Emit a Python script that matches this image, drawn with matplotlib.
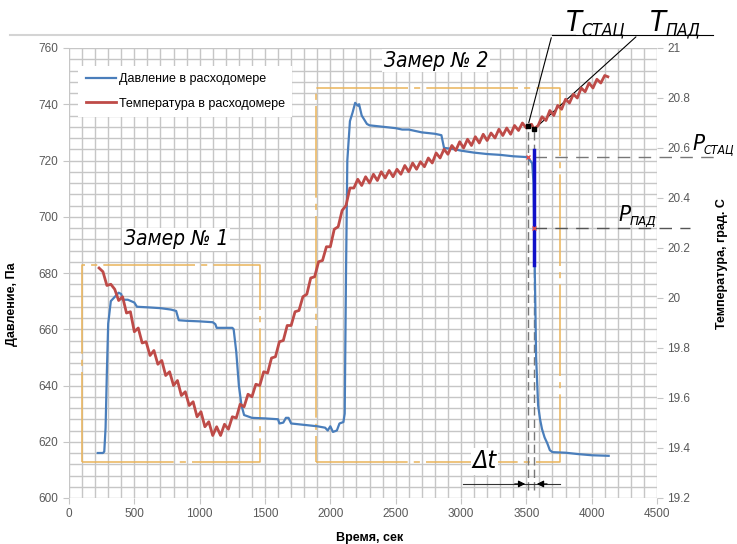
import matplotlib
matplotlib.use('Agg')
import matplotlib.pyplot as plt
from matplotlib.ticker import MultipleLocator, FormatStrFormatter

# pressure in the flowmeter, Pa
time_p = [220, 260, 270, 280, 290, 300, 320, 350, 380, 400, 410, 450, 500, 520, 600, 700, 780,
          820, 840, 900, 1000, 1100, 1120, 1130, 1200, 1250, 1260, 1280, 1300, 1320, 1340, 1400,
          1500, 1600, 1610, 1640, 1660, 1680, 1700, 1800, 1900, 1960, 1980, 2000, 2020, 2050,
          2070, 2100, 2110, 2120, 2130, 2150, 2170, 2190, 2210, 2220, 2240, 2260, 2280, 2300,
          2400, 2500, 2550, 2600, 2650, 2700, 2800, 2850, 2870, 2950, 3000, 3100, 3200, 3300,
          3400, 3510, 3545, 3555, 3565, 3575, 3590, 3605, 3620, 3640, 3660, 3680, 3700, 3800,
          3900, 4000, 4130]
pressure = [616, 616, 616.5, 625, 645, 662, 670, 671.5, 673, 672.5, 670.5, 670.5, 669.5, 668,
            667.8, 667.5, 667, 666.5, 663.2, 663, 662.8, 662.5, 661.8, 660.5, 660.5, 660.5, 660,
            652, 640, 633, 629.5, 628.5, 628.3, 628, 626.5, 626.8, 628.5, 628.5, 626.5, 626,
            625.5, 625, 624, 625.5, 623.5, 624, 626.5, 627, 630, 680, 720, 734, 737, 740.5,
            739.5, 740, 736, 734.5, 733, 732.5, 732, 731.5, 731, 731, 730.5, 730, 729.5, 729,
            724.5, 724, 723.5, 722.8, 722.3, 722, 721.5, 721.2, 719, 712, 680, 650, 633, 628,
            624.5, 621.5, 619.5, 617, 616.3, 616.1, 615.6, 615.2, 615.0]

# temperature in the flowmeter, deg C
time_t = [230, 260, 290, 320, 350, 380, 410, 440, 470, 500, 530, 560, 590, 620, 650, 680, 710,
          740, 770, 800, 830, 860, 890, 920, 950, 980, 1010, 1040, 1070, 1100, 1130, 1160, 1190,
          1220, 1250, 1280, 1310, 1340, 1370, 1400, 1430, 1460, 1490, 1520, 1550, 1580, 1610,
          1640, 1670, 1700, 1730, 1760, 1790, 1820, 1850, 1880, 1910, 1940, 1970, 2000, 2030,
          2060, 2090, 2120, 2150, 2180, 2210, 2240, 2270, 2300, 2330, 2360, 2390, 2420, 2450,
          2480, 2510, 2540, 2570, 2600, 2630, 2660, 2690, 2720, 2750, 2780, 2810, 2840, 2870,
          2900, 2930, 2960, 2990, 3020, 3050, 3080, 3110, 3140, 3170, 3200, 3230, 3260, 3290,
          3320, 3350, 3380, 3410, 3440, 3470, 3500, 3513, 3540, 3559, 3590, 3620, 3650, 3680,
          3710, 3740, 3770, 3800, 3830, 3860, 3890, 3920, 3950, 3980, 4010, 4040, 4070, 4100,
          4124]
temperature = [20.12, 20.105, 20.05, 20.055, 20.035, 19.99, 20.005, 19.94, 19.945, 19.865, 19.88,
               19.82, 19.825, 19.77, 19.79, 19.735, 19.75, 19.69, 19.705, 19.65, 19.67, 19.61,
               19.625, 19.57, 19.585, 19.525, 19.545, 19.485, 19.505, 19.45, 19.485, 19.45,
               19.495, 19.475, 19.525, 19.52, 19.575, 19.565, 19.615, 19.605, 19.655, 19.65,
               19.705, 19.70, 19.76, 19.765, 19.825, 19.83, 19.89, 19.89, 19.945, 19.95, 20.005,
               20.015, 20.08, 20.085, 20.145, 20.15, 20.205, 20.205, 20.275, 20.285, 20.35,
               20.37, 20.44, 20.44, 20.475, 20.45, 20.485, 20.46, 20.495, 20.47, 20.505, 20.48,
               20.51, 20.485, 20.515, 20.495, 20.53, 20.505, 20.54, 20.515, 20.545, 20.525,
               20.56, 20.54, 20.58, 20.56, 20.595, 20.575, 20.61, 20.59, 20.625, 20.60, 20.635,
               20.61, 20.645, 20.62, 20.655, 20.63, 20.66, 20.64, 20.675, 20.65, 20.68, 20.655,
               20.69, 20.67, 20.70, 20.68, 20.69, 20.695, 20.675, 20.69, 20.725, 20.71, 20.75,
               20.73, 20.77, 20.755, 20.795, 20.78, 20.815, 20.80, 20.84, 20.825, 20.86, 20.84,
               20.875, 20.86, 20.89, 20.885]

# characteristic points
t_stat, t_drop = 3513, 3559
p_stat, p_drop = 721.2, 696
T_stat, T_drop = 20.69, 20.675
drop_top, drop_bottom = 723.7, 682.8

# measurement windows: (t_left, t_right, p_bottom, p_top)
windows = [(100, 1460, 612.8, 682.8), (1890, 3757, 612.8, 745.8)]
window_labels = ['Замер № 1', 'Замер № 2']

plt.rcParams['font.family'] = ['Liberation Sans', 'DejaVu Sans']
gost = dict(family='DejaVu Sans', style='italic', stretch='condensed', weight='light')

fig = plt.figure(figsize=(7.37, 5.44), dpi=100)
ax = fig.add_axes([69/737, 1 - 498/544, 588/737, 450/544])
ax2 = ax.twinx()

grid_c = '#c6c6c6'
tick_c = '#595959'

ax.set_xlim(0, 4500)
ax.set_ylim(600, 760)
ax2.set_ylim(19.2, 21)
ax.xaxis.set_major_locator(MultipleLocator(500))
ax.xaxis.set_minor_locator(MultipleLocator(100))
ax.yaxis.set_major_locator(MultipleLocator(20))
ax.yaxis.set_minor_locator(MultipleLocator(4))
ax2.yaxis.set_major_locator(MultipleLocator(0.2))
ax2.yaxis.set_major_formatter(FormatStrFormatter('%g'))
ax.grid(which='both', color=grid_c, lw=1.0)
ax.set_axisbelow(True)
for a in (ax, ax2):
    for s in a.spines.values():
        s.set_visible(False)
ax.tick_params(axis='both', which='major', labelsize=8.5, labelcolor=tick_c, color=grid_c, length=4)
ax.tick_params(axis='both', which='minor', length=0)
ax2.tick_params(axis='y', labelsize=8.5, labelcolor=tick_c, color=grid_c, length=4)

# windows
for (x0, x1, y0, y1), lab in zip(windows, window_labels):
    ax.plot([x0, x1, x1, x0, x0], [y0, y0, y1, y1, y0], color='#eab45a', lw=1.1,
            dashes=(60, 4, 4, 4), zorder=2)

ax.text(820, 692, window_labels[0], fontsize=15, ha='center', va='center',
        bbox=dict(facecolor='white', edgecolor='none', pad=1), zorder=3, **gost)
ax.text(2808, 755.5, window_labels[1], fontsize=15, ha='center', va='center',
        bbox=dict(facecolor='white', edgecolor='none', pad=1), zorder=3, **gost)

l1, = ax.plot(time_p, pressure, color='#4a7ebb', lw=1.6, zorder=4)
l2, = ax2.plot(time_t, temperature, color='#be4b48', lw=2.0, zorder=4)

# pressure drop segment and marks
ax.plot([t_drop, t_drop], [drop_bottom, drop_top], color='#1010c8', lw=2.5, zorder=5)
ax.plot([t_stat, t_drop], [p_stat, p_drop], ls='none', marker='x', ms=3, color='#e05050', zorder=6)
ax2.plot([t_stat, t_drop], [T_stat, T_drop], ls='none', marker='s', ms=3, color='black', zorder=6)

# vertical dashed guides
for t in (t_stat, t_drop):
    ax.plot([t, t], [602.8, 731.8], color='#777777', lw=1.0, dashes=(6, 3), zorder=3)

# horizontal dashed guides
ax.plot([t_drop, 4980], [p_stat, p_stat], color='#777777', lw=1.0, dashes=(9, 6), clip_on=False, zorder=3)
ax.plot([t_drop, 4750], [p_drop, p_drop], color='#555555', lw=1.0, dashes=(9, 6), clip_on=False, zorder=3)

# delta t
ax.plot([3015, 3757], [605, 605], color='#333333', lw=0.8, zorder=5)
ax.annotate('', xy=(t_stat, 605), xytext=(3390, 605),
            arrowprops=dict(arrowstyle='-|>', color='black', lw=0.8, mutation_scale=10), zorder=5)
ax.annotate('', xy=(t_drop, 605), xytext=(3680, 605),
            arrowprops=dict(arrowstyle='-|>', color='black', lw=0.8, mutation_scale=10), zorder=5)
ax.text(3180, 613, 'Δt', fontsize=18, ha='center', va='center',
        bbox=dict(facecolor='white', edgecolor='none', pad=1), zorder=5, **gost)

# top leaders
fig.add_artist(plt.Line2D([10/737, 575/737], [1 - 35/544, 1 - 35/544], color='#d4d4d4', lw=1.5))
fig.add_artist(plt.Line2D([552/737, 713/737], [1 - 35/544, 1 - 35/544], color='black', lw=0.8))
ax2.annotate('', xy=(t_stat, T_stat), xytext=(552, 544 - 35), textcoords='figure pixels',
             arrowprops=dict(arrowstyle='-', color='black', lw=0.8))
ax2.annotate('', xy=(t_drop, T_drop), xytext=(638, 544 - 35), textcoords='figure pixels',
             arrowprops=dict(arrowstyle='-', color='black', lw=0.8))

def sub_label(x, y, main, sub, size, sub_scale=0.6):
    fig.text(x / 737, 1 - y / 544, main, fontsize=size, va='baseline', **gost)
    fig.text((x + size * 0.72) / 737, 1 - (y + size * 0.22) / 544, sub, fontsize=size * sub_scale,
             va='baseline', **gost)

sub_label(566, 31, 'T', 'СТАЦ', 21)
sub_label(650, 31, 'T', 'ПАД', 21)
sub_label(692, 150, 'P', 'СТАЦ', 16, 0.55)
sub_label(618, 221, 'P', 'ПАД', 16)

ax.legend([l1, l2], ['Давление в расходомере', 'Температура в расходомере'], loc='upper left',
          bbox_to_anchor=(0.005, 0.975), frameon=True, fancybox=False, edgecolor='none',
          framealpha=1, fontsize=9, handlelength=2.4, handletextpad=0.25, borderpad=0.6,
          labelspacing=1.0)

ax.set_xlabel('Время, сек', fontsize=9, fontweight='bold')
ax.xaxis.set_label_coords(0.512, -0.075)
ax.set_ylabel('Давление, Па', fontsize=9, fontweight='bold')
ax.yaxis.set_label_coords(-0.087, 0.43)
ax2.set_ylabel('Температура, град. С', fontsize=9, fontweight='bold', rotation=90)
ax2.yaxis.set_label_coords(1.10, 0.52)

fig.savefig('out.png', dpi=100)
